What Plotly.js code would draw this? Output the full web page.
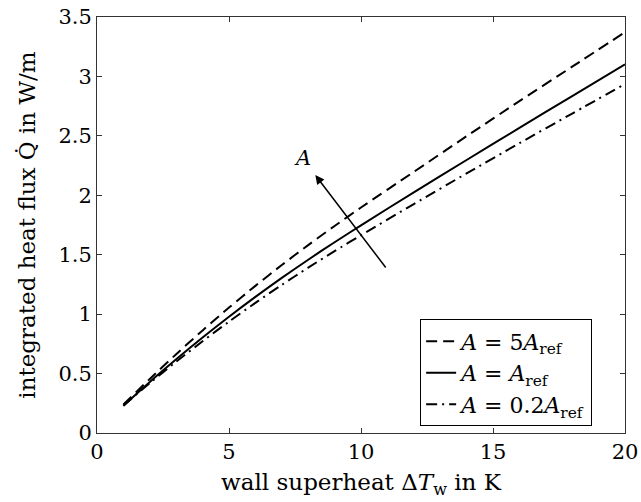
<!DOCTYPE html>
<html>
<head>
<meta charset="utf-8">
<script src="https://cdn.plot.ly/plotly-3.0.1.min.js"></script>
<style>
  html, body { margin: 0; padding: 0; background: #fff; }
  #chart { width: 641px; height: 502px; }
</style>
</head>
<body>
<div id="chart"></div>
<script>
// Wall superheat ΔT_w in K
const superheat = [1, 2, 3, 4, 5, 6, 7, 8, 9, 10, 12, 14, 16, 18, 20];

// Integrated heat flux in W/m for three values of A
const fluxA5 = [0.240, 0.455, 0.663, 0.863, 1.055, 1.238, 1.413, 1.581, 1.742, 1.897, 2.197, 2.497, 2.792, 3.082, 3.372];
const fluxA1 = [0.230, 0.430, 0.620, 0.803, 0.978, 1.145, 1.305, 1.458, 1.605, 1.747, 2.025, 2.297, 2.567, 2.835, 3.101];
const fluxA02 = [0.230, 0.420, 0.600, 0.772, 0.937, 1.095, 1.246, 1.391, 1.530, 1.664, 1.926, 2.184, 2.438, 2.688, 2.936];

const seriesNames = [
  '<i>A</i> = 5<i>A</i><sub>ref</sub>',
  '<i>A</i> = <i>A</i><sub>ref</sub>',
  '<i>A</i> = 0.2<i>A</i><sub>ref</sub>'
];

const xTicks = [0, 5, 10, 15, 20];
const yTicks = [0, 0.5, 1, 1.5, 2, 2.5, 3, 3.5];
const yTickText = ['0', '0.5', '1', '1.5', '2', '2.5', '3', '3.5'];

// Arrow marking the direction of increasing A
const arrowTail = [10.98, 1.38];
const arrowHead = [8.27, 2.17];
const arrowLabelPos = [7.77, 2.31];

const FONT = 'DejaVu Serif, serif';

const lineStyle = (dash) => ({ color: '#000', width: 2, dash: dash, shape: 'spline', smoothing: 0.8 });

const traces = [
  { x: superheat, y: fluxA5, name: seriesNames[0], mode: 'lines', line: lineStyle('11px,6px') },
  { x: superheat, y: fluxA1, name: seriesNames[1], mode: 'lines', line: lineStyle('solid') },
  { x: superheat, y: fluxA02, name: seriesNames[2], mode: 'lines', line: lineStyle('11px,5px,2px,5px') }
];

const axisCommon = {
  showline: true, linecolor: '#333', linewidth: 1, mirror: 'ticks',
  ticks: 'inside', ticklen: 5, tickcolor: '#333', tickwidth: 1,
  showgrid: false, zeroline: false,
  tickfont: { family: FONT, size: 21, color: '#000' }
};

const layout = {
  width: 641, height: 502,
  margin: { l: 97, r: 16, t: 17, b: 69 },
  paper_bgcolor: '#fff', plot_bgcolor: '#fff',
  font: { family: FONT, color: '#000' },
  showlegend: true,
  legend: {
    x: 0.612, y: 0.016, xanchor: 'left', yanchor: 'bottom',
    bgcolor: '#fff', bordercolor: '#000', borderwidth: 1,
    font: { family: FONT, size: 22, color: '#000' },
    tracegroupgap: 0, itemwidth: 30
  },
  xaxis: Object.assign({}, axisCommon, {
    range: [0, 20], tickvals: xTicks,
    title: { text: 'wall superheat Δ<i>T</i><sub>w</sub> in K', font: { family: FONT, size: 23, color: '#000' }, standoff: 10 }
  }),
  yaxis: Object.assign({}, axisCommon, {
    range: [0, 3.5], tickvals: yTicks, ticktext: yTickText,
    title: { text: 'integrated heat flux Q\u0307 in W/m', font: { family: FONT, size: 23, color: '#000' }, standoff: 16 }
  }),
  annotations: [
    {
      x: arrowHead[0], y: arrowHead[1], xref: 'x', yref: 'y',
      ax: arrowTail[0], ay: arrowTail[1], axref: 'x', ayref: 'y',
      showarrow: true, arrowhead: 2, arrowsize: 1.2, arrowwidth: 1.5, arrowcolor: '#000', text: ''
    },
    {
      x: arrowLabelPos[0], y: arrowLabelPos[1], xref: 'x', yref: 'y',
      text: '<i>A</i>', showarrow: false,
      font: { family: FONT, size: 21, color: '#000' }
    }
  ]
};

Plotly.newPlot('chart', traces, layout, { displayModeBar: false, staticPlot: true });
</script>
</body>
</html>
